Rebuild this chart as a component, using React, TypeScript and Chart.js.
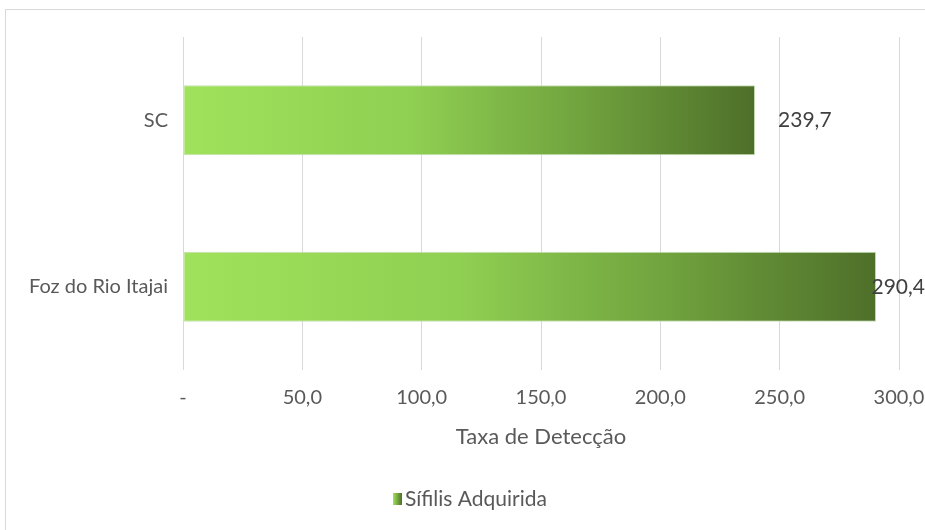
import React, { useEffect, useRef } from "react";
import { Chart, registerables } from "chart.js";
Chart.register(...registerables);

const categories = ["SC", "Foz do Rio Itajai"];
const values = [239.7, 290.4];
const seriesName = "Sífilis Adquirida";
const xMin = 0;
const xMax = 300;
const xStep = 50;
const axisTitle = "Taxa de Detecção";

const FONT = "Lato, 'Open Sans', sans-serif";
const TEXT = "#595959";
const fmt = (v: number) => (v === 0 ? "-" : v.toFixed(1).replace(".", ","));

export default function App() {
  const ref = useRef<HTMLCanvasElement>(null);
  useEffect(() => {
    document.body.style.margin = "0";
    const canvas = ref.current;
    if (!canvas) return;

    const makeGrad = (chart: any, v: number) => {
      const xs = chart.scales && chart.scales.x;
      if (!xs) return "#7ab648";
      const x0 = xs.getPixelForValue(0);
      const x1 = xs.getPixelForValue(v);
      if (!isFinite(x0) || !isFinite(x1) || x1 <= x0) return "#7ab648";
      const g = chart.ctx.createLinearGradient(x0, 0, x1, 0);
      g.addColorStop(0, "#a0e25b");
      g.addColorStop(0.4, "#8fcf52");
      g.addColorStop(0.7, "#70a23e");
      g.addColorStop(1, "#4e6f29");
      return g;
    };

    const frame = {
      id: "frame",
      beforeDraw(chart: any) {
        const c = chart.ctx;
        c.save();
        c.strokeStyle = "#d9d9d9";
        c.lineWidth = 1;
        c.strokeRect(5.5, 9.5, 2000, 2000);
        c.restore();
      },
    };

    const dataLabels = {
      id: "dataLabels",
      afterDatasetsDraw(chart: any) {
        const c = chart.ctx;
        const meta = chart.getDatasetMeta(0);
        c.save();
        c.font = "21px " + FONT;
        c.fillStyle = "#404040";
        c.textBaseline = "middle";
        c.textAlign = "left";
        meta.data.forEach((bar: any, i: number) => {
          const t = fmt(values[i]);
          const w = c.measureText(t).width;
          let x = bar.x + 23;
          if (x + w > chart.width) x = chart.width - w;
          c.fillText(t, x, bar.y);
        });
        c.restore();
      },
    };

    const titleAndLegend = {
      id: "titleAndLegend",
      afterDraw(chart: any) {
        const c = chart.ctx;
        const area = chart.chartArea;
        c.save();
        c.font = "22px " + FONT;
        c.fillStyle = TEXT;
        c.textBaseline = "middle";
        c.textAlign = "center";
        c.fillText(axisTitle, (area.left + area.right) / 2, area.bottom + 67);

        const cy = area.bottom + 129;
        const sx = 393;
        const g = c.createLinearGradient(sx, 0, sx + 9, 0);
        g.addColorStop(0, "#a0e25b");
        g.addColorStop(1, "#4e6f29");
        c.fillStyle = g;
        c.fillRect(sx, cy - 6, 9, 12);
        c.font = "21px " + FONT;
        c.fillStyle = TEXT;
        c.textAlign = "left";
        c.fillText(seriesName, sx + 12, cy);
        c.restore();
      },
    };

    const chart = new Chart(canvas, {
      type: "bar",
      data: {
        labels: categories,
        datasets: [
          {
            label: seriesName,
            data: values,
            backgroundColor: (ctx: any) => makeGrad(ctx.chart, values[ctx.dataIndex] ?? 0),
            borderColor: "#c5e0b4",
            borderWidth: 1,
            borderSkipped: false,
            categoryPercentage: 1,
            barPercentage: 0.42,
          },
        ],
      },
      options: {
        indexAxis: "y",
        animation: false,
        responsive: true,
        maintainAspectRatio: false,
        layout: { padding: { top: 37, right: 26, bottom: 0, left: 0 } },
        scales: {
          x: {
            min: xMin,
            max: xMax,
            ticks: {
              stepSize: xStep,
              callback: (v: any) => fmt(Number(v)),
              color: TEXT,
              font: { family: FONT, size: 20 },
              padding: 16,
              maxRotation: 0,
            },
            grid: { color: "#d9d9d9", drawTicks: false },
            border: { display: false },
            title: { display: false },
            afterFit: (s: any) => {
              s.paddingRight = 0;
              s.height = 160;
            },
          },
          y: {
            grid: { display: false, drawTicks: false },
            border: { display: false },
            ticks: { color: TEXT, font: { family: FONT, size: 20 }, padding: 15 },
            afterFit: (s: any) => {
              s.width = 183;
            },
          },
        },
        plugins: {
          title: { display: false },
          tooltip: { enabled: false },
          legend: { display: false },
        },
      },
      plugins: [frame, dataLabels, titleAndLegend],
    });
    return () => chart.destroy();
  }, []);
  return (
    <div style={{ width: 925, height: 530, position: "relative" }}>
      <canvas ref={ref} />
    </div>
  );
}
